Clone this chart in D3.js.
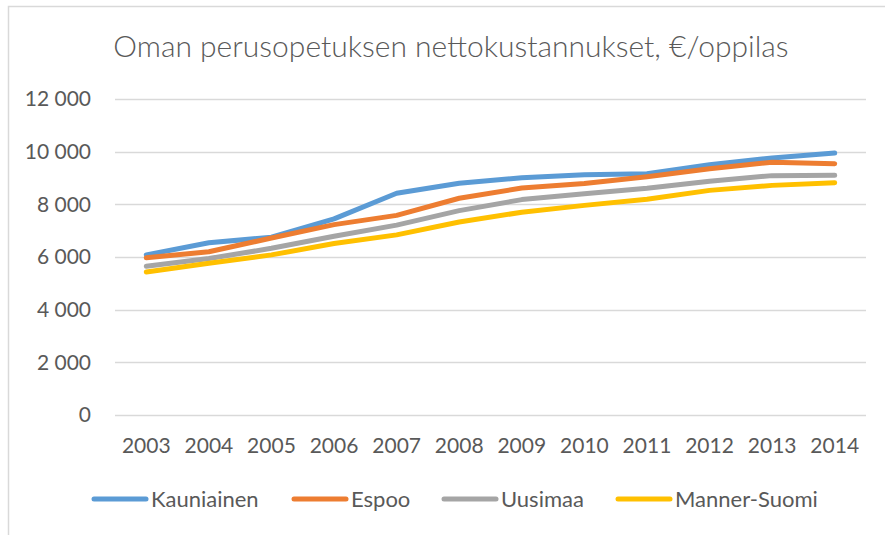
<!DOCTYPE html>
<html>
<head>
<meta charset="utf-8">
<script src="https://cdn.jsdelivr.net/npm/d3@7"></script>
<style>
  body { margin: 0; background: #fff; }
  text { font-family: Lato, "Open Sans", sans-serif; fill: #595959; }
</style>
</head>
<body>
<div id="chart-area"></div>
<script>
// data
const years = ["2003","2004","2005","2006","2007","2008","2009","2010","2011","2012","2013","2014"]
const kauniainen = [6080, 6540, 6750, 7450, 8420, 8800, 9010, 9120, 9160, 9500, 9760, 9950]
const espoo      = [5970, 6200, 6720, 7230, 7580, 8230, 8620, 8790, 9050, 9350, 9600, 9540]
const uusimaa    = [5650, 5940, 6330, 6790, 7210, 7760, 8180, 8400, 8610, 8880, 9090, 9100]
const mannerSuomi = [5430, 5760, 6080, 6510, 6840, 7330, 7700, 7960, 8190, 8530, 8720, 8820]
const seriesNames = ["Kauniainen", "Espoo", "Uusimaa", "Manner-Suomi"]
const colors = ["#5B9BD5", "#ED7D31", "#A5A5A5", "#FFC000"]
const yTicks = [0, 2000, 4000, 6000, 8000, 10000, 12000]

const series = [kauniainen, espoo, uusimaa, mannerSuomi].map((vals, i) => ({
    name: seriesNames[i],
    color: colors[i],
    values: vals
}))

var cw = 885
var ch = 535

var svg = d3.select("#chart-area").append("svg")
    .attr("width", cw)
    .attr("height", ch)

// outer chart border (only left and top show in the crop)
svg.append("path")
    .attr("d", "M8.5," + ch + "V6.5H" + cw)
    .attr("fill", "none")
    .attr("stroke", "#D9D9D9")
    .attr("stroke-width", 1.5)

svg.append("text")
    .attr("x", 451)
    .attr("y", 57)
    .attr("text-anchor", "middle")
    .attr("font-size", "30px")
    .attr("font-weight", 300)
    .text("Oman perusopetuksen nettokustannukset, €/oppilas")

var m = {l: 115, t: 99, r: 19, b: 120}
var w = cw - m.l - m.r
var h = ch - m.t - m.b

var g = svg.append("g").attr("transform", "translate(" + m.l + ", " + m.t + ")")

var x = d3.scaleBand()
    .domain(years)
    .range([0, w])

var y = d3.scaleLinear()
    .domain([0, 12000])
    .range([h, 0])

// gridlines
g.append("g")
    .attr("class", "grid")
    .selectAll("line")
    .data(yTicks)
    .enter()
    .append("line")
    .attr("x1", 0)
    .attr("x2", w)
    .attr("y1", d => Math.round(y(d)) + 0.5)
    .attr("y2", d => Math.round(y(d)) + 0.5)
    .attr("stroke", "#D9D9D9")
    .attr("stroke-width", 1.5)

var fmt = d => d3.format(",")(d).replace(",", " ")

var leftAxis = d3.axisLeft(y)
    .tickValues(yTicks)
    .tickFormat(fmt)
    .tickSize(0)
    .tickPadding(24)

var yAxisGroup = g.append("g")
    .attr("class", "left axis")
    .call(leftAxis)
yAxisGroup.select(".domain").remove()
yAxisGroup.selectAll("text")
    .attr("font-size", "21px")
    .attr("font-family", null)
    .attr("fill", "#595959")

var bottomAxis = d3.axisBottom(x)
    .tickSize(0)
    .tickPadding(23)

var xAxisGroup = g.append("g")
    .attr("class", "bottom axis")
    .attr("transform", "translate(0, " + h + ")")
    .call(bottomAxis)
xAxisGroup.select(".domain").remove()
xAxisGroup.selectAll("text")
    .attr("font-size", "21px")
    .attr("font-family", null)
    .attr("fill", "#595959")

var line = d3.line()
    .x((d, i) => x(years[i]) + x.bandwidth() / 2)
    .y(d => y(d))

g.selectAll(".series")
    .data(series)
    .enter()
    .append("path")
    .attr("class", "series")
    .attr("d", d => line(d.values))
    .attr("fill", "none")
    .attr("stroke", d => d.color)
    .attr("stroke-width", 5)
    .attr("stroke-linecap", "round")
    .attr("stroke-linejoin", "round")

// legend
const legendX = [92, 292, 442, 616]
const legend = svg.append("g")
    .attr("class", "legend")
    .attr("transform", "translate(0, 499)")

const legendItems = legend.selectAll(".legend-item")
    .data(series)
    .enter()
    .append("g")
    .attr("class", "legend-item")
    .attr("transform", (d, i) => `translate(${legendX[i]}, 0)`)

legendItems.append("line")
    .attr("x1", 2)
    .attr("x2", 54)
    .attr("stroke", d => d.color)
    .attr("stroke-width", 5)
    .attr("stroke-linecap", "round")

legendItems.append("text")
    .attr("x", 59)
    .attr("y", 8)
    .attr("font-size", "22px")
    .text(d => d.name)
</script>
</body>
</html>
